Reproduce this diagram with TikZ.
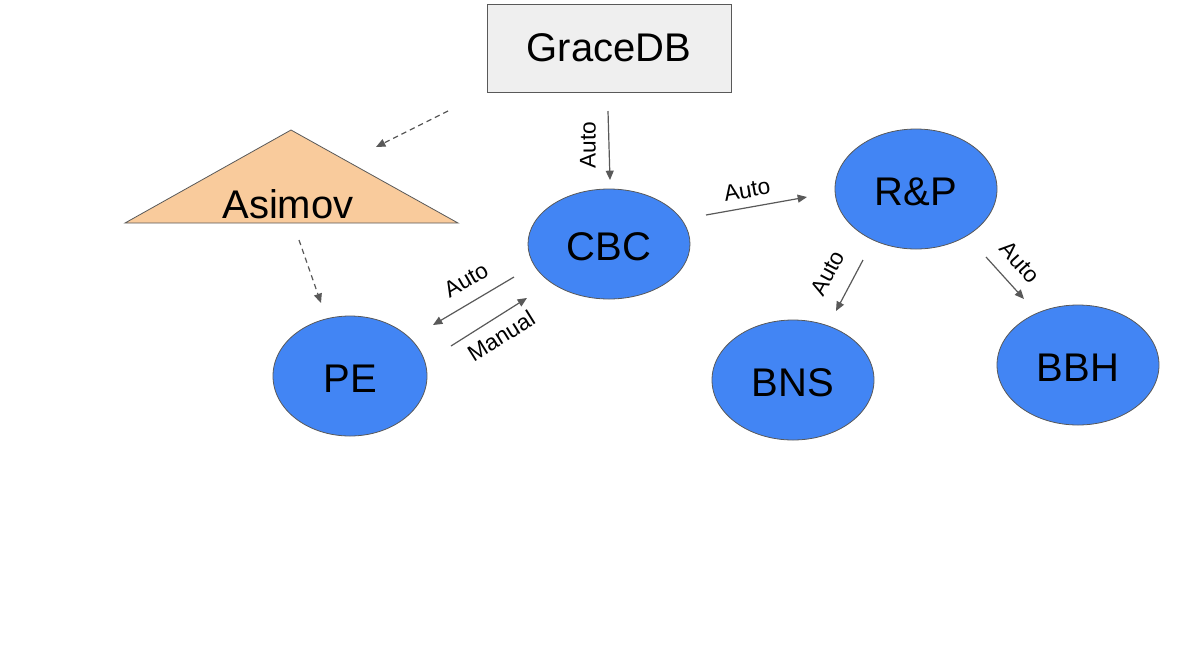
\documentclass[tikz,border=0pt]{standalone}
\usepackage{fontspec}
\setmainfont{Liberation Sans}
\usetikzlibrary{arrows.meta,shapes.geometric}
\definecolor{edge}{HTML}{595959}
\definecolor{blueN}{HTML}{4285F4}
\definecolor{peach}{HTML}{F9CB9C}
\definecolor{boxgray}{HTML}{EFEFEF}
\tikzset{
  conn/.style={draw=edge, line width=0.9pt, -{Triangle[length=7pt,width=6pt]}},
  dconn/.style={conn, dash pattern=on 4pt off 3pt},
  bub/.style={ellipse, draw=edge, fill=blueN, line width=0.6pt, font=\fontsize{30}{36}\selectfont, inner sep=0pt, text height=25pt, text depth=0pt},
  lab/.style={font=\fontsize{17}{20}\selectfont, inner sep=0pt}
}
\begin{document}
\begin{tikzpicture}[x=0.75pt,y=-0.75pt]
\useasboundingbox (0,0) rectangle (1204,669);
% GraceDB
\node[draw=edge, fill=boxgray, line width=0.6pt, minimum width=183pt, minimum height=66pt, inner sep=0pt, font=\fontsize{30}{36}\selectfont] (grace) at (609,48) {GraceDB};
% Asimov triangle
\coordinate (tA) at (291,130);
\coordinate (tB) at (125,223);
\coordinate (tC) at (458,223);
\fill[peach] (tA) -- (tB) -- (tC) -- cycle;
\draw[edge, line width=0.6pt] (tB) -- (tA) -- (tC) -- cycle;
\node[font=\fontsize{30}{36}\selectfont, inner sep=0pt] (asimov) at (288,204) {Asimov};
% ellipses
\node[bub, minimum width=121.5pt, minimum height=82.5pt] (cbc) at (609,244) {CBC};
\node[bub, minimum width=115.5pt, minimum height=90pt] (pe) at (350,376) {PE};
\node[bub, minimum width=121.5pt, minimum height=90pt] (rp) at (916,189) {R\&P};
\node[bub, minimum width=121.5pt, minimum height=90pt] (bns) at (793,380) {BNS};
\node[bub, minimum width=121.5pt, minimum height=90pt] (bbh) at (1078,365) {BBH};
% arrow end coordinates
\coordinate (g1) at (608,111); \coordinate (g2) at (610,180);
\coordinate (d1) at (448,111); \coordinate (d2) at (376,147);
\coordinate (d3) at (299,240); \coordinate (d4) at (321,303);
\coordinate (a1) at (514,277); \coordinate (a2) at (433,325);
\coordinate (m1) at (451,346); \coordinate (m2) at (527,298);
\coordinate (r1) at (706,215); \coordinate (r2) at (807,197);
\coordinate (b1) at (863,260); \coordinate (b2) at (836,311);
\coordinate (h1) at (986,257); \coordinate (h2) at (1024,299);
% connectors
\draw[conn] (g1) -- (g2);
\draw[dconn] (d1) -- (d2);
\draw[dconn] (d3) -- (d4);
\draw[conn] (a1) -- (a2);
\draw[conn] (m1) -- (m2);
\draw[conn] (r1) -- (r2);
\draw[conn] (b1) -- (b2);
\draw[conn] (h1) -- (h2);
% labels
\node[lab, rotate=90] (lg) at (588,145) {Auto};
\node[lab, rotate=30] (la) at (466,280) {Auto};
\node[lab, rotate=32] (lm) at (501,336) {Manual};
\node[lab, rotate=10] (lr) at (747,190) {Auto};
\node[lab, rotate=62] (lb) at (828,273) {Auto};
\node[lab, rotate=-48] (lh) at (1020,262) {Auto};
\end{tikzpicture}
\end{document}
